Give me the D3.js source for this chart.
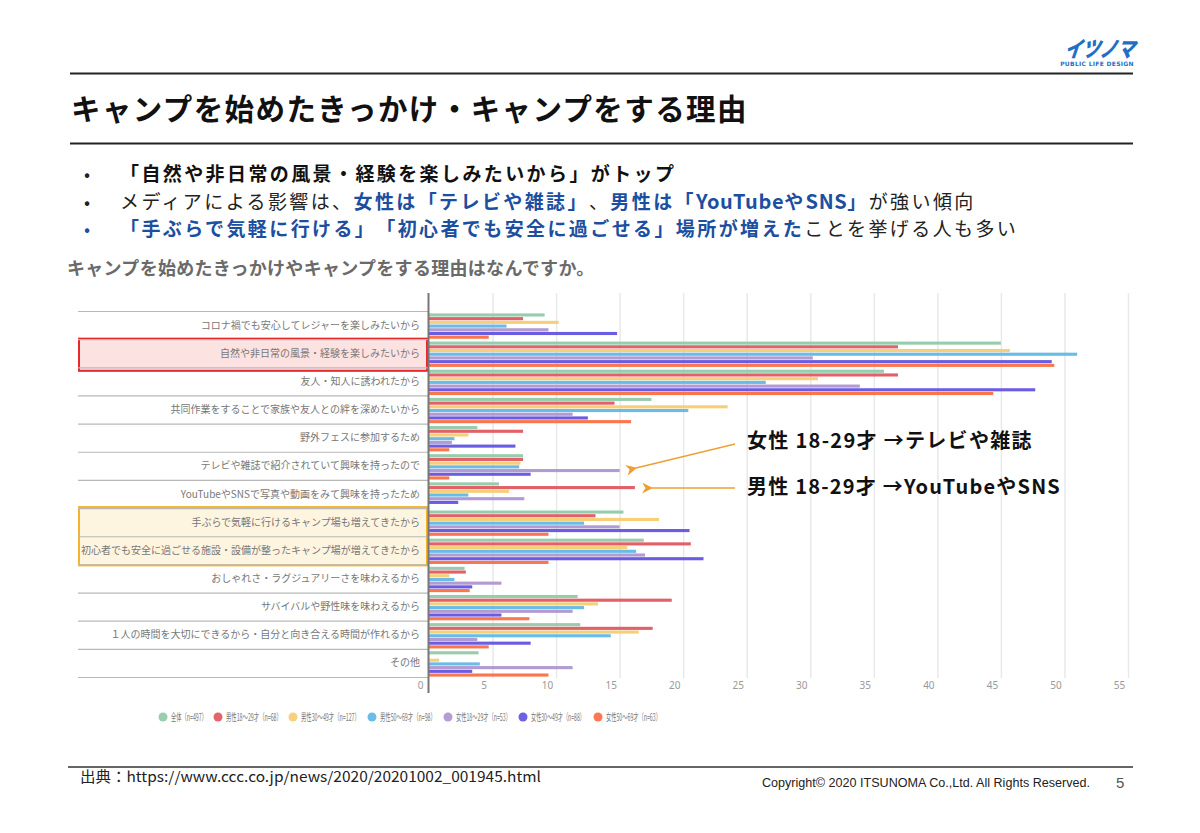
<!DOCTYPE html>
<html><head><meta charset="utf-8">
<script src="https://cdn.jsdelivr.net/npm/d3@7/dist/d3.min.js"></script>
<style>
html,body{margin:0;padding:0;background:#fff;}
svg{display:block;font-family:"Noto Sans CJK JP","Noto Sans",sans-serif;}
svg text{font-feature-settings:"chws" 0, "halt" 0, "palt" 0; text-spacing-trim:space-all;}
</style></head>
<body>
<script>
const categories = [
  "コロナ禍でも安心してレジャーを楽しみたいから",
  "自然や非日常の風景・経験を楽しみたいから",
  "友人・知人に誘われたから",
  "共同作業をすることで家族や友人との絆を深めたいから",
  "野外フェスに参加するため",
  "テレビや雑誌で紹介されていて興味を持ったので",
  "YouTubeやSNSで写真や動画をみて興味を持ったため",
  "手ぶらで気軽に行けるキャンプ場も増えてきたから",
  "初心者でも安全に過ごせる施設・設備が整ったキャンプ場が増えてきたから",
  "おしゃれさ・ラグジュアリーさを味わえるから",
  "サバイバルや野性味を味わえるから",
  "１人の時間を大切にできるから・自分と向き合える時間が作れるから",
  "その他"
];
const seriesNames = ["全体（n=497）","男性18～29才（n=68）","男性30～49才（n=127）","男性50～69才（n=98）","女性18～29才（n=53）","女性30～49才（n=88）","女性50～69才（n=63）"];
const seriesColors = ["#8ec9a5","#e0545c","#f5cb6c","#5cb5e6","#ab92cf","#5e4fdf","#fb6a3d"];
const allValues   = [9.1, 45.0, 35.8, 17.5, 3.8, 7.4, 5.5, 15.3, 16.9, 2.8, 11.7, 11.9, 3.9];
const m1829Values = [7.4, 36.9, 36.9, 14.6, 7.4, 7.4, 16.2, 13.1, 20.6, 2.9, 19.1, 17.6, 0];
const m3049Values = [10.2, 45.7, 30.6, 23.5, 3.1, 7.2, 6.3, 18.1, 15.6, 1.6, 13.3, 16.5, 0.8];
const m5069Values = [6.1, 51.0, 26.5, 20.4, 2.0, 7.1, 3.1, 12.2, 16.3, 2.0, 12.2, 14.3, 4.0];
const f1829Values = [9.4, 30.2, 33.9, 11.3, 1.8, 15.0, 7.5, 15.0, 17.0, 5.7, 11.3, 3.8, 11.3];
const f3049Values = [14.8, 49.0, 47.7, 12.5, 6.8, 8.0, 2.3, 20.5, 21.6, 3.4, 5.7, 8.0, 3.4];
const f5069Values = [4.7, 49.2, 44.4, 15.9, 1.6, 1.6, 0, 9.4, 9.4, 3.2, 7.9, 4.7, 9.4];
const xTicks = [0,5,10,15,20,25,30,35,40,45,50,55];

const seriesValues = [allValues,m1829Values,m3049Values,m5069Values,f1829Values,f3049Values,f5069Values];

const W=1200,H=833;
const svg=d3.select("body").append("svg").attr("width",W).attr("height",H);

// header
svg.append("line").attr("x1",70).attr("x2",1133).attr("y1",73.5).attr("y2",73.5).attr("stroke","#222").attr("stroke-width",2);
svg.append("line").attr("x1",70).attr("x2",1133).attr("y1",143.5).attr("y2",143.5).attr("stroke","#222").attr("stroke-width",2);
svg.append("text").attr("x",71).attr("y",120).attr("font-size",29.5).attr("font-weight",700).attr("fill","#111")
  .attr("letter-spacing",1.4).text("キャンプを始めたきっかけ・キャンプをする理由");

// logo
const logo=svg.append("g");
logo.append("text").attr("x",1099).attr("y",57).attr("text-anchor","middle").attr("font-size",22).attr("font-weight",900)
  .attr("font-style","italic").attr("fill","#1f6fc4").attr("textLength",70).attr("lengthAdjust","spacingAndGlyphs")
  .attr("transform","skewX(-8) translate(8,0)").text("イツノマ");
logo.append("text").attr("x",1097).attr("y",66).attr("text-anchor","middle").attr("font-size",6).attr("font-weight",700)
  .attr("fill","#1f6fc4").attr("font-family","DejaVu Sans").attr("letter-spacing",0.3).text("PUBLIC LIFE DESIGN");

// bullets
const blue="#1c4fa0";
const bullets=[
  {y:181,bc:"#222",parts:[["「自然や非日常の風景・経験を楽しみたいから」がトップ","#111",700]]},
  {y:208.5,bc:"#222",parts:[["メディアによる影響は、","#222",400],["女性は「テレビや雑誌」",blue,700],["、","#222",400],["男性は「",blue,700],["YouTube",blue,700,0.6],["や",blue,700],["SNS",blue,700,0.6],["」",blue,700],["が強い傾向","#222",400]]},
  {y:236,bc:blue,parts:[["「手ぶらで気軽に行ける」「初心者でも安全に過ごせる」場所が増えた",blue,700],["ことを挙げる人も多い","#222",400]]}
];
bullets.forEach(b=>{
  svg.append("text").attr("x",84).attr("y",b.y).attr("font-size",18).attr("fill",b.bc).text("•");
  const t=svg.append("text").attr("x",120).attr("y",b.y).attr("font-size",19).attr("letter-spacing",2.4);
  b.parts.forEach(p=>{
    const ts=t.append("tspan").attr("fill",p[1]).attr("font-weight",p[2]).text(p[0]);
    if(p[3]!==undefined) ts.attr("letter-spacing",p[3]).attr("font-size",20);
  });
});

svg.append("text").attr("x",67).attr("y",275).attr("font-size",18).attr("font-weight",700).attr("fill","#6a6a6a")
  .attr("letter-spacing",0.3).text("キャンプを始めたきっかけやキャンプをする理由はなんですか。");

// chart
const x=d3.scaleLinear().domain([0,55]).range([429,1128]);
const y=d3.scaleBand().domain(categories).range([311,677]).padding(0);
const yi=d3.scaleBand().domain(seriesNames).range([2.4,y.bandwidth()-0.4]).paddingInner(0.16);

// highlight boxes
svg.append("rect").attr("x",79).attr("y",y(categories[1])-0.5).attr("width",348).attr("height",y.bandwidth()+4)
  .attr("fill","#fde2e2").attr("stroke","#e8262b").attr("stroke-width",2);
svg.append("rect").attr("x",79).attr("y",y(categories[7])-1).attr("width",348).attr("height",2*y.bandwidth()+2)
  .attr("fill","#fef5e0").attr("stroke","#f4b42c").attr("stroke-width",2);

// gridlines
svg.append("g").selectAll("line").data(xTicks.slice(1)).join("line")
  .attr("x1",d=>x(d)+0.5).attr("x2",d=>x(d)+0.5).attr("y1",293).attr("y2",678)
  .attr("stroke","#e9e9e9").attr("stroke-width",1.5);

// row separators
const bounds=categories.map(c=>y(c)).concat([y.range()[1]]);
svg.append("g").selectAll("line").data(bounds).join("line")
  .attr("x1",78).attr("x2",428).attr("y1",d=>d+0.5).attr("y2",d=>d+0.5)
  .attr("stroke","#b8b8b8").attr("stroke-width",1.2);

// category labels
svg.append("g").selectAll("text").data(categories).join("text")
  .attr("x",420).attr("y",d=>y(d)+y.bandwidth()/2+3.5).attr("text-anchor","end")
  .attr("font-size",10).attr("fill","#777").text(d=>d);

// bars
const rows=[];
categories.forEach((c,ci)=>seriesNames.forEach((s,si)=>rows.push({c,s,si,v:seriesValues[si][ci]})));
svg.append("g").selectAll("rect").data(rows).join("rect")
  .attr("x",x(0)).attr("y",d=>y(d.c)+yi(d.s)).attr("height",yi.bandwidth())
  .attr("width",d=>x(d.v)-x(0)).attr("fill",d=>seriesColors[d.si]).attr("opacity",0.92);

// axis line
svg.append("line").attr("x1",428.5).attr("x2",428.5).attr("y1",293).attr("y2",693).attr("stroke","#777").attr("stroke-width",2);

// tick labels
const xAxis=d3.axisBottom(x).tickValues(xTicks).tickSize(0).tickPadding(0);
const ax=svg.append("g").attr("transform","translate(-9,682)").call(xAxis);
ax.select(".domain").remove();
ax.selectAll("text").attr("font-size",10).attr("fill","#999").attr("font-family","Noto Sans, sans-serif");

// annotations
const orange="#f0a032";
svg.append("defs").append("marker").attr("id","ah").attr("viewBox","0 0 10 10").attr("refX",1).attr("refY",5)
  .attr("markerUnits","userSpaceOnUse").attr("markerWidth",11).attr("markerHeight",11).attr("orient","auto")
  .append("path").attr("d","M0,5 L10,0 L7,5 L10,10 Z").attr("fill",orange);
svg.append("line").attr("x1",735).attr("y1",444).attr("x2",636).attr("y2",468).attr("stroke",orange).attr("stroke-width",1.5).attr("marker-end","url(#ah)");
svg.append("line").attr("x1",735).attr("y1",488).attr("x2",652).attr("y2",488).attr("stroke",orange).attr("stroke-width",1.5).attr("marker-end","url(#ah)");
svg.append("text").attr("x",747).attr("y",448).attr("font-size",20).attr("font-weight",700).attr("fill","#111")
  .attr("letter-spacing",1.3).text("女性 18-29才 →テレビや雑誌");
svg.append("text").attr("x",747).attr("y",494).attr("font-size",20).attr("font-weight",700).attr("fill","#111")
  .attr("letter-spacing",1.2).text("男性 18-29才 →YouTubeやSNS");

// legend
const legX=[163,218,293,372,448,523,598];
const legW=[36,56,59,56,55,54,55];
const leg=svg.append("g").selectAll("g").data(seriesNames).join("g").attr("transform",(d,i)=>`translate(${legX[i]},717)`);
leg.append("circle").attr("r",4.5).attr("fill",(d,i)=>seriesColors[i]).attr("opacity",0.9);
leg.append("text").attr("x",0).attr("y",3.5).attr("font-size",10).attr("fill","#777").text(d=>d)
  .each(function(d,i){
    const w=this.getComputedTextLength();
    const s=legW[i]/w;
    d3.select(this).attr("transform",`translate(8,0) scale(${s},1)`);
  });

// footer
svg.append("line").attr("x1",68).attr("x2",1133).attr("y1",767).attr("y2",767).attr("stroke","#333").attr("stroke-width",1.5);
svg.append("text").attr("x",80).attr("y",782).attr("font-size",14.5).attr("fill","#222")
  .attr("textLength",461).attr("lengthAdjust","spacingAndGlyphs").text("出典：https://www.ccc.co.jp/news/2020/20201002_001945.html");
svg.append("text").attr("x",762).attr("y",787).attr("font-size",12).attr("fill","#222").attr("font-family","Liberation Sans, sans-serif")
  .attr("textLength",328).attr("lengthAdjust","spacingAndGlyphs").text("Copyright© 2020 ITSUNOMA Co.,Ltd.  All Rights Reserved.");
svg.append("text").attr("x",1116).attr("y",788).attr("font-size",15).attr("fill","#555").attr("font-family","Liberation Sans, sans-serif").text("5");
</script>
</body></html>
